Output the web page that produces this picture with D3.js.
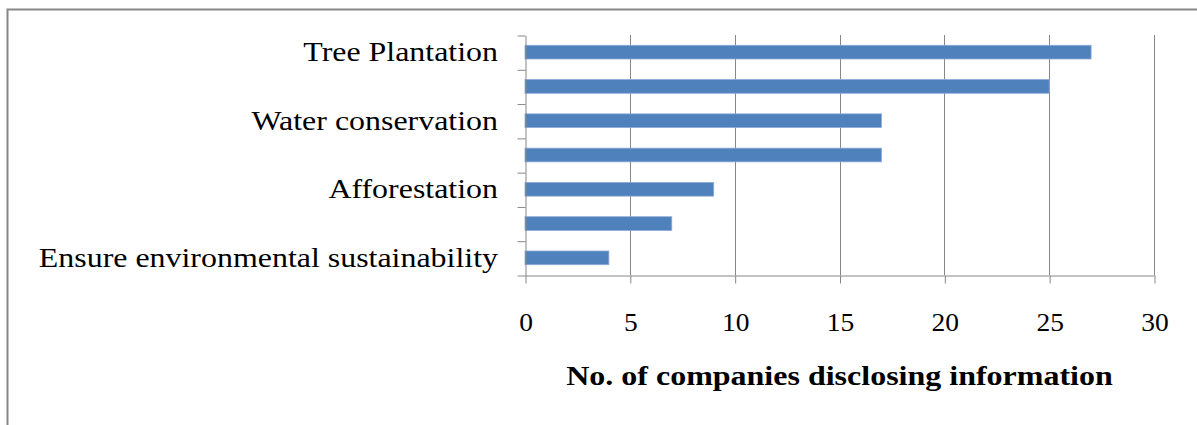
<!DOCTYPE html>
<html>
<head>
<meta charset="utf-8">
<script src="https://cdn.jsdelivr.net/npm/d3@7"></script>
<style>
  html, body { margin: 0; padding: 0; background: #fff; }
  svg { display: block; }
</style>
</head>
<body>
<svg id="chart" width="1197" height="425"></svg>
<script>
const categories = ["Tree Plantation", "Category 2", "Water conservation", "Category 4", "Afforestation", "Category 6", "Ensure environmental sustainability"];
const values = [27, 25, 17, 17, 9, 7, 4];
const shownLabels = ["Tree Plantation", "Water conservation", "Afforestation", "Ensure environmental sustainability"];
const xTicks = [0, 5, 10, 15, 20, 25, 30];
const xTitle = "No. of companies disclosing information";

const svg = d3.select("#chart");
const W = 1197, H = 425;
const plot = { left: 525, right: 1154, top: 35, bottom: 275 };
const gray = "#878787";
const font = "'Liberation Serif', 'Times New Roman', serif";

// widen text a little to imitate the wider serif face of the original
function widen(sel, k) {
  sel.each(function () {
    const len = this.getComputedTextLength();
    d3.select(this).attr("textLength", len * k).attr("lengthAdjust", "spacingAndGlyphs");
  });
}

// outer frame (right & bottom edges lie outside the picture)
svg.append("rect")
  .attr("x", 7.5).attr("y", 9.5)
  .attr("width", W + 20).attr("height", H + 20)
  .attr("fill", "none").attr("stroke", gray).attr("stroke-width", 2);

const x = d3.scaleLinear().domain([0, 30]).range([plot.left, plot.right]);
const y = d3.scaleBand().domain(categories).range([plot.top, plot.bottom])
  .paddingInner(0.6).paddingOuter(0.3);
const yIdx = d3.scaleLinear().domain([0, categories.length]).range([plot.top, plot.bottom]);

// vertical gridlines
svg.append("g")
  .selectAll("line")
  .data(xTicks.filter(d => d > 0))
  .join("line")
  .attr("x1", d => Math.round(x(d)) + 0.5).attr("x2", d => Math.round(x(d)) + 0.5)
  .attr("y1", plot.top).attr("y2", plot.bottom)
  .attr("stroke", gray).attr("stroke-width", 1);

// bars
svg.append("g")
  .selectAll("rect")
  .data(categories.map((c, i) => ({ c, v: values[i] })))
  .join("rect")
  .attr("x", x(0))
  .attr("y", d => y(d.c))
  .attr("width", d => x(d.v) - x(0))
  .attr("height", y.bandwidth())
  .attr("fill", "#4F81BD")
  .attr("stroke", "#8EAAD6").attr("stroke-width", 0.8);

// x axis
const xAxis = svg.append("g")
  .attr("transform", `translate(0.5,${plot.bottom + 0.5})`)
  .call(d3.axisBottom(x).tickValues(xTicks).tickSize(8).tickPadding(30).tickSizeOuter(0));
xAxis.select(".domain").attr("stroke", gray);
xAxis.selectAll(".tick line").attr("stroke", gray);
xAxis.selectAll(".tick text")
  .attr("font-family", font).attr("font-size", 25).attr("fill", "#000");
widen(xAxis.selectAll(".tick text"), 1.1);

// y axis: ticks at category boundaries
svg.append("g")
  .attr("transform", `translate(${plot.left + 0.5},0.5)`)
  .call(d3.axisLeft(yIdx).ticks(categories.length).tickSize(8).tickFormat("").tickSizeOuter(0))
  .call(g => g.select(".domain").attr("stroke", gray))
  .call(g => g.selectAll(".tick line").attr("stroke", gray));

// y labels (every other category)
const yLab = svg.append("g")
  .attr("transform", `translate(${plot.left},0)`)
  .call(d3.axisLeft(y).tickValues(shownLabels).tickSize(0).tickPadding(27));
yLab.select(".domain").remove();
yLab.selectAll(".tick text")
  .attr("font-family", font).attr("font-size", 28).attr("fill", "#000");
widen(yLab.selectAll(".tick text"), 1.14);

// axis title
const title = svg.append("text")
  .attr("x", (plot.left + plot.right) / 2)
  .attr("y", 385)
  .attr("text-anchor", "middle")
  .attr("font-family", font).attr("font-weight", "bold").attr("font-size", 27)
  .attr("fill", "#000")
  .text(xTitle);
widen(title, 1.185);
</script>
</body>
</html>
